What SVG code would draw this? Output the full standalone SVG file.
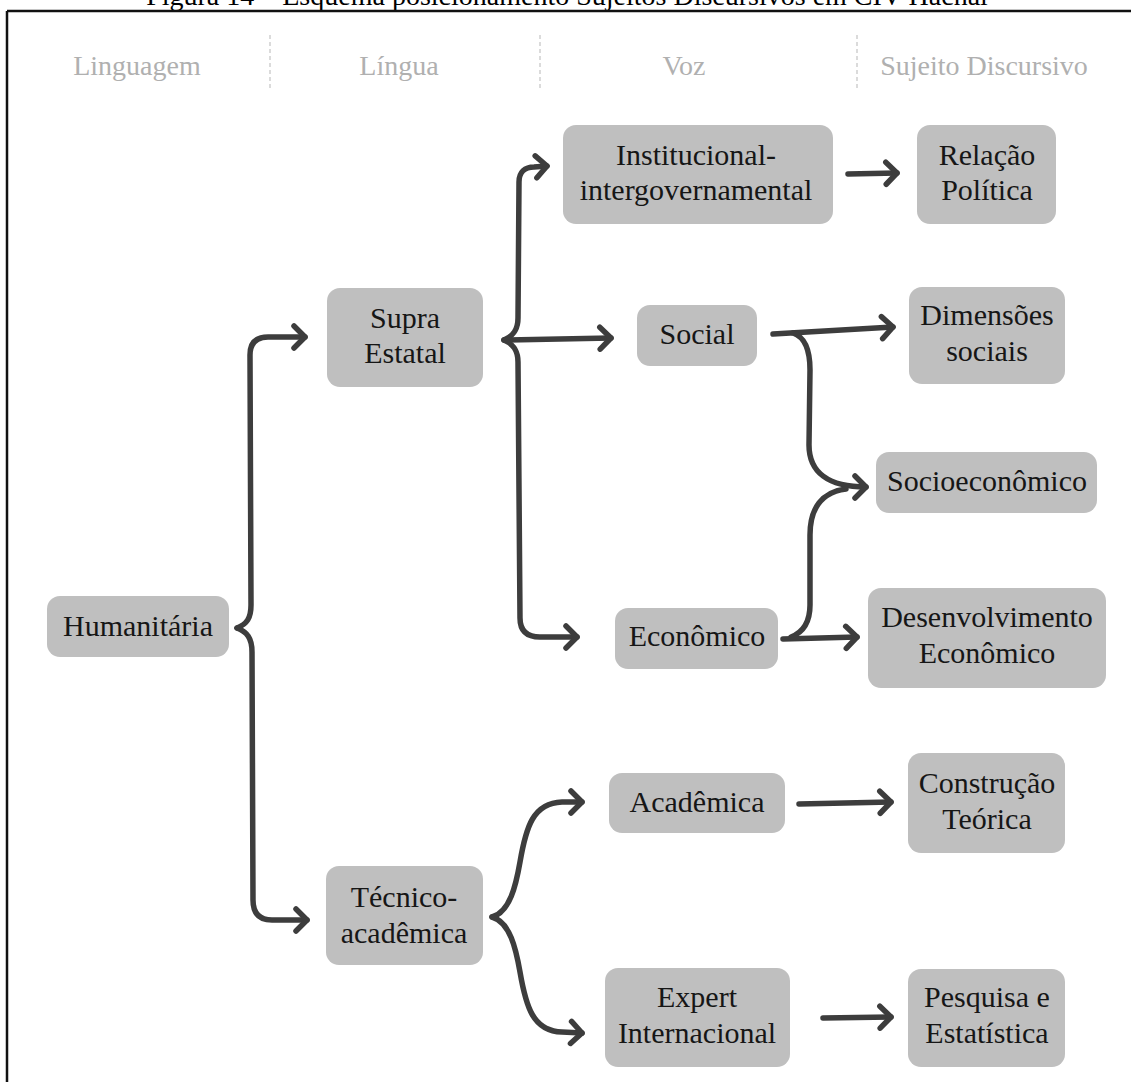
<svg xmlns="http://www.w3.org/2000/svg" width="1131" height="1082" viewBox="0 0 1131 1082">
  <style>
    .box { fill: #bfbfbf; }
    .lbl { font-family: "Liberation Serif", "Times New Roman", serif; font-size: 30px; fill: #161616; text-anchor: middle; }
    .hdr { font-family: "Liberation Serif", "Times New Roman", serif; font-size: 28px; fill: #b0b0b0; text-anchor: middle; }
    .ttl { font-family: "Liberation Serif", "Times New Roman", serif; font-size: 28px; fill: #000; text-anchor: middle; }
    .sep { stroke: #c4c4c4; stroke-width: 1.2; stroke-dasharray: 4 3; fill: none; }
    .con { fill: none; stroke: #3d3d3d; stroke-width: 5.5; stroke-linecap: round; stroke-linejoin: round; marker-end: url(#ah); }
    .con2 { fill: none; stroke: #3d3d3d; stroke-width: 5.5; stroke-linecap: round; stroke-linejoin: round; }
  </style>
  <defs>
    <marker id="ah" markerUnits="userSpaceOnUse" viewBox="-16 -15 20 30" markerWidth="20" markerHeight="30" refX="0" refY="0" orient="auto" overflow="visible">
      <path d="M-11,-11 L0,0 L-11,11" fill="none" stroke="#3d3d3d" stroke-width="5.5" stroke-linecap="round" stroke-linejoin="round"/>
    </marker>
  </defs>

  <rect x="0" y="0" width="1131" height="1082" fill="#ffffff"/>

  <!-- title (clipped at top, as in the reference) -->
  <text class="ttl" x="567" y="5">Figura 14 – Esquema posicionamento Sujeitos Discursivos em CIV Hacnal</text>

  <!-- frame -->
  <g id="frame" stroke="#111" stroke-width="2.5" fill="none">
    <line x1="7" y1="11" x2="1131" y2="11"/>
    <line x1="7" y1="11" x2="7" y2="1082"/>
  </g>

  <!-- column headers -->
  <g id="headers">
    <text class="hdr" x="137" y="75">Linguagem</text>
    <text class="hdr" x="399" y="75">Língua</text>
    <text class="hdr" x="684" y="75">Voz</text>
    <text class="hdr" x="984" y="75">Sujeito Discursivo</text>
    <line class="sep" x1="270" y1="35" x2="270" y2="91"/>
    <line class="sep" x1="540" y1="35" x2="540" y2="91"/>
    <line class="sep" x1="857" y1="35" x2="857" y2="91"/>
  </g>

  <!-- connectors -->
  <g id="connectors">
    <!-- Humanitária brace -->
    <path class="con" d="M237,628 C247,624 251,618 251,605 L250,355 C250,343 256,337 268,337 L305,337"/>
    <path class="con" d="M237,628 C247,632 252,638 252,652 L253,900 C253,913 259,920 272,920 L307,920"/>
    <!-- Supra brace -->
    <path class="con" d="M504,340 C513,336 518,330 518,318 L519,182 C519,172 525,167 534,167 L547,166"/>
    <path class="con" d="M504,340 L611,338"/>
    <path class="con" d="M504,340 C513,344 518,350 518,362 L520,618 C520,631 527,637 540,637 L577,637"/>
    <!-- Institucional -> Relação -->
    <path class="con" d="M848,174 L897,173"/>
    <!-- Social -> Dimensões -->
    <path class="con" d="M773,334 L893,327"/>
    <!-- Social -> Socioeconômico -->
    <path class="con" d="M793,333 C805,337 810,350 810,370 L809,445 C809,472 828,487 866,487"/>
    <!-- Econômico -> Socioeconômico -->
    <path class="con2" d="M791,637 C804,632 810,622 810,605 L810,535 C810,508 822,492 846,489"/>
    <!-- Econômico -> Desenvolvimento -->
    <path class="con" d="M783,639 L857,637"/>
    <!-- Técnico brace -->
    <path class="con" d="M492,917 C510,912 516,885 520,862 C526,827 533,803 562,802 L582,802"/>
    <path class="con" d="M492,917 C510,922 516,949 520,972 C526,1007 533,1031 562,1032 L582,1033"/>
    <!-- Acadêmica -> Construção -->
    <path class="con" d="M799,804 L891,802"/>
    <!-- Expert -> Pesquisa -->
    <path class="con" d="M823,1018 L891,1017"/>
  </g>

  <!-- nodes -->
  <g id="n-humanitaria">
    <rect class="box" x="47" y="596" width="182" height="61" rx="13"/>
    <text class="lbl" x="138" y="636">Humanitária</text>
  </g>
  <g id="n-supra">
    <rect class="box" x="327" y="288" width="156" height="99" rx="13"/>
    <text class="lbl" x="405" y="328">Supra</text>
    <text class="lbl" x="405" y="363">Estatal</text>
  </g>
  <g id="n-tecnico">
    <rect class="box" x="326" y="866" width="157" height="99" rx="13"/>
    <text class="lbl" x="404" y="907">Técnico-</text>
    <text class="lbl" x="404" y="943">acadêmica</text>
  </g>
  <g id="n-institucional">
    <rect class="box" x="563" y="125" width="270" height="99" rx="13"/>
    <text class="lbl" x="696" y="165">Institucional-</text>
    <text class="lbl" x="696" y="200">intergovernamental</text>
  </g>
  <g id="n-social">
    <rect class="box" x="637" y="305" width="120" height="61" rx="13"/>
    <text class="lbl" x="697" y="344">Social</text>
  </g>
  <g id="n-economico">
    <rect class="box" x="615" y="608" width="163" height="61" rx="13"/>
    <text class="lbl" x="697" y="646">Econômico</text>
  </g>
  <g id="n-academica">
    <rect class="box" x="609" y="773" width="176" height="60" rx="13"/>
    <text class="lbl" x="697" y="812">Acadêmica</text>
  </g>
  <g id="n-expert">
    <rect class="box" x="605" y="968" width="185" height="99" rx="13"/>
    <text class="lbl" x="697" y="1007">Expert</text>
    <text class="lbl" x="697" y="1043">Internacional</text>
  </g>
  <g id="n-relacao">
    <rect class="box" x="917" y="125" width="139" height="99" rx="13"/>
    <text class="lbl" x="987" y="165">Relação</text>
    <text class="lbl" x="987" y="200">Política</text>
  </g>
  <g id="n-dimensoes">
    <rect class="box" x="909" y="287" width="156" height="97" rx="13"/>
    <text class="lbl" x="987" y="325">Dimensões</text>
    <text class="lbl" x="987" y="361">sociais</text>
  </g>
  <g id="n-socioeconomico">
    <rect class="box" x="876" y="452" width="221" height="61" rx="13"/>
    <text class="lbl" x="987" y="491">Socioeconômico</text>
  </g>
  <g id="n-desenvolvimento">
    <rect class="box" x="868" y="588" width="238" height="100" rx="13"/>
    <text class="lbl" x="987" y="627">Desenvolvimento</text>
    <text class="lbl" x="987" y="663">Econômico</text>
  </g>
  <g id="n-construcao">
    <rect class="box" x="908" y="753" width="157" height="100" rx="13"/>
    <text class="lbl" x="987" y="793">Construção</text>
    <text class="lbl" x="987" y="829">Teórica</text>
  </g>
  <g id="n-pesquisa">
    <rect class="box" x="908" y="969" width="157" height="98" rx="13"/>
    <text class="lbl" x="987" y="1007">Pesquisa e</text>
    <text class="lbl" x="987" y="1043">Estatística</text>
  </g>
</svg>
